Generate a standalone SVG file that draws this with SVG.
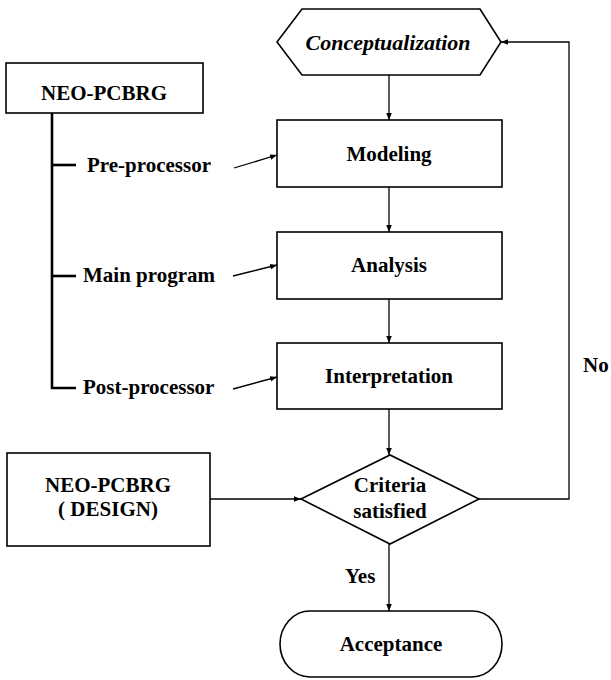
<svg xmlns="http://www.w3.org/2000/svg" width="611" height="680" viewBox="0 0 611 680" font-family="'Liberation Serif', 'Times New Roman', Times, serif">
<defs>
<marker id="ah" viewBox="0 0 10 10" refX="10" refY="5" markerWidth="7" markerHeight="7" orient="auto" markerUnits="userSpaceOnUse">
<path d="M0,1 L10,5 L0,9 Z" fill="#000"/>
</marker>
</defs>
<style>
.box{fill:#fff;stroke:#000;stroke-width:1.6}
.t{font-family:'Liberation Serif','Times New Roman',Times,serif;font-weight:bold;font-size:21px;fill:#000}
.c{text-anchor:middle}
.ln{fill:none;stroke:#000;stroke-width:1.3}
.bar{fill:none;stroke:#000;stroke-width:2.6}
</style>
<rect width="611" height="680" fill="#fff"/>
<g id="connectors">
<line class="ln" x1="389" y1="75" x2="389" y2="120" marker-end="url(#ah)"/>
<line class="ln" x1="389" y1="187" x2="389" y2="232" marker-end="url(#ah)"/>
<line class="ln" x1="389" y1="299" x2="389" y2="343" marker-end="url(#ah)"/>
<line class="ln" x1="389" y1="409" x2="389" y2="455" marker-end="url(#ah)"/>
<line class="ln" x1="389" y1="544" x2="389" y2="611" marker-end="url(#ah)"/>
<polyline class="ln" points="479,499 569,499 569,42 501,42" marker-end="url(#ah)"/>
<line class="ln" x1="210" y1="499" x2="301" y2="499" marker-end="url(#ah)"/>
<line class="ln" x1="234" y1="168" x2="277" y2="155" marker-end="url(#ah)"/>
<line class="ln" x1="233" y1="276" x2="277" y2="265" marker-end="url(#ah)"/>
<line class="ln" x1="233" y1="389" x2="277" y2="377" marker-end="url(#ah)"/>
<polyline class="bar" points="52,113 52,388 76,388"/>
<line class="bar" x1="52" y1="165" x2="76" y2="165"/>
<line class="bar" x1="52" y1="276" x2="76" y2="276"/>
<text class="t" x="87" y="172">Pre-processor</text>
<text class="t" x="83" y="282">Main program</text>
<text class="t" x="83" y="394">Post-processor</text>
<text class="t" x="345" y="583">Yes</text>
<text class="t" x="583" y="372">No</text>
</g>
<g id="conceptualization">
<polygon class="box" points="277,42 302,9 480,9 501,42 480,75 302,75"/>
<text class="t c" x="388" y="50" style="font-style:italic;font-size:22px">Conceptualization</text>
</g>
<g id="modeling">
<rect class="box" x="277" y="120" width="225" height="67"/>
<text class="t c" x="389" y="161">Modeling</text>
</g>
<g id="analysis">
<rect class="box" x="277" y="232" width="225" height="67"/>
<text class="t c" x="389" y="272">Analysis</text>
</g>
<g id="interpretation">
<rect class="box" x="277" y="343" width="225" height="66"/>
<text class="t c" x="389" y="383">Interpretation</text>
</g>
<g id="neo-pcbrg">
<rect class="box" x="6" y="63" width="197" height="50"/>
<text class="t c" x="104" y="100">NEO-PCBRG</text>
</g>
<g id="neo-pcbrg-design">
<rect class="box" x="7" y="453" width="203" height="93"/>
<text class="t c" x="108" y="492">NEO-PCBRG</text>
<text class="t c" x="108" y="516">( DESIGN)</text>
</g>
<g id="criteria">
<polygon class="box" points="301,499 390,455 479,499 390,544"/>
<text class="t c" x="390" y="492">Criteria</text>
<text class="t c" x="390" y="518">satisfied</text>
</g>
<g id="acceptance">
<rect class="box" x="280" y="611" width="222" height="66" rx="30" ry="33"/>
<text class="t c" x="391" y="651">Acceptance</text>
</g>
</svg>
